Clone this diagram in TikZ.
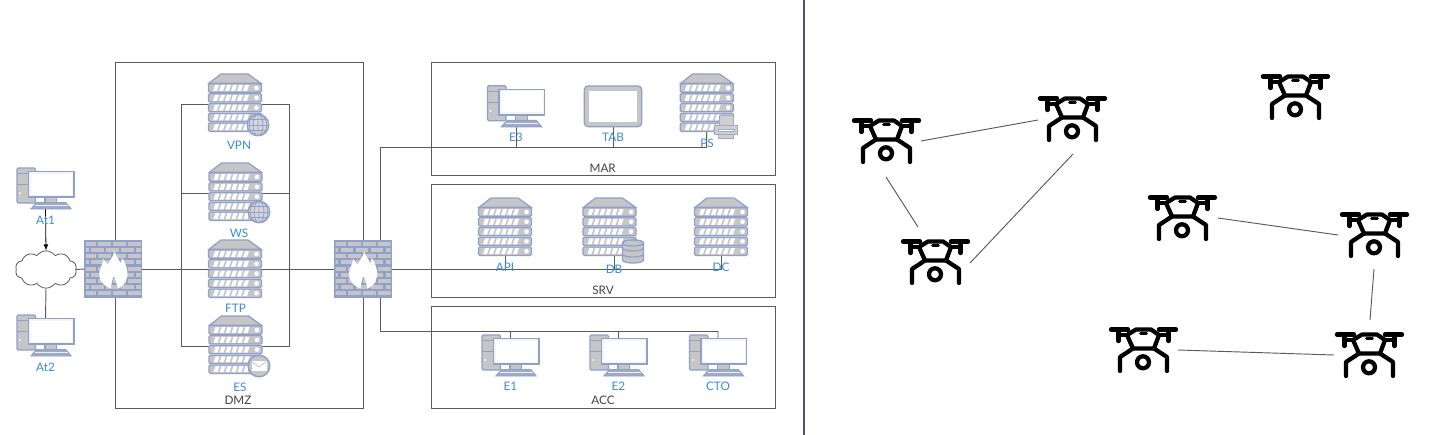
\documentclass[tikz,border=0pt]{standalone}
\usepackage{fontspec}
\setmainfont{Lato}
\usetikzlibrary{arrows.meta,shapes.symbols}
\definecolor{icb}{HTML}{8FA1CB}
\definecolor{icg}{HTML}{C6C6C6}
\definecolor{lbl}{HTML}{3A8BD8}
\definecolor{ln}{HTML}{5A5A5A}
\definecolor{txt}{HTML}{444444}
\definecolor{divc}{HTML}{50508C}
\tikzset{
  x=0.75pt,y=-0.75pt,
  wire/.style={draw=ln,line width=0.7pt},
  zone/.style={draw=ln,line width=0.75pt},
  lab/.style={text=lbl,font=\fontsize{8.8}{10}\selectfont,inner sep=0pt},
  ztext/.style={text=txt,font=\fontsize{8.8}{10}\selectfont,inner sep=0pt},
  anchorbox/.style={inner sep=0pt,outer sep=0pt,minimum width=#1*0.75pt},
  srvbox/.style={anchorbox=53,minimum height=43.5pt},
  pcbox/.style={anchorbox=57,minimum height=30.75pt},
  fwbox/.style={anchorbox=58,minimum height=43.5pt},
  dronebox/.style={anchorbox=68,minimum height=34.5pt},
  ic/.style={draw=icb,line width=0.95pt,fill=icg},
  dr/.style={draw=black,line width=3.2pt,line cap=round,line join=round},
  pics/srvicon/.style={code={
    \path[ic] (-26,-19.7) -- (-14,-29) -- (13,-29) -- (26,-19.7) -- cycle;
    \foreach \yy in {-19.2,-9.4,0.4,10.2,20}{
      \path[ic,rounded corners=1pt] (-26.5,\yy) rectangle (26.5,\yy+8.4);
      \foreach \xx in {-22,-16,-10,-4,2,8}
        \fill[white] (\xx,\yy+7.2) -- (\xx+4,\yy+7.2) -- (\xx+6,\yy+1.2) -- (\xx+2,\yy+1.2) -- cycle;
      \fill[white] (21.5,\yy+4.2) circle (2.3);
    }
  }},
  pics/pcicon/.style={code={
    \path[ic,rounded corners=1pt] (-28.5,-20.5) rectangle (-10,14.5);
    \draw[icb,line width=0.8pt] (-28.5,-14.8) -- (-11,-14.8) (-28.5,-3.8) -- (-11,-3.8);
    \fill[white] (-25.5,4.5) circle (1);
    \path[ic] (-0.5,8.5) rectangle (11.2,14);
    \path[draw=icb,fill=icb!75!icg,line width=0.7pt] (-8.8,14) -- (20.2,14) -- (25.7,20.5) -- (-14.7,20.5) -- cycle;
    \draw[white!85!icb,line width=0.4pt] (-10.5,17) -- (22,17);
    \path[draw=icb,fill=white!80!icg,line width=1.1pt] (-17,-16.8) rectangle (28.5,8.7);
    \fill[white] (-15,-15) rectangle (26.5,6);
  }},
  pics/tabicon/.style={code={
    \path[ic,rounded corners=3pt] (-28.8,-20.4) rectangle (28.8,20.4);
    \fill[white] (-24,-15.5) rectangle (24,15.5);
  }},
  pics/globeicon/.style={code={
    \path[draw=icb,fill=icg!70!white,line width=0.95pt] (0,0) circle (10.8);
    \begin{scope}
      \clip (0,0) circle (10.8);
      \draw[icb,line width=0.65pt] (-10,-5.5) -- (10,-5.5) (-11,0) -- (11,0) (-10,5.5) -- (10,5.5);
      \draw[icb,line width=0.65pt] (0,-11) -- (0,11) (0,0) ellipse (5 and 10.8) (0,0) ellipse (8.8 and 10.8);
    \end{scope}
  }},
  pics/mailicon/.style={code={
    \path[draw=icb,fill=icg,line width=1.1pt] (0,0) circle (10.8);
    \fill[white] (-7.5,-5) rectangle (7.5,5.2);
    \draw[icg,line width=0.6pt] (-7.5,-4.5) -- (0,1) -- (7.5,-4.5);
  }},
  pics/dbicon/.style={code={
    \foreach \yy in {6,0,-6}{
      \path[ic] (-10.5,\yy) -- (-10.5,\yy+5) .. controls (-10.5,\yy+9) and (10.5,\yy+9) .. (10.5,\yy+5) -- (10.5,\yy) .. controls (10.5,\yy-4) and (-10.5,\yy-4) .. (-10.5,\yy) -- cycle;
    }
    \path[ic] (0,-6) ellipse (10.5 and 3);
  }},
  pics/printicon/.style={code={
    \path[draw=icb!70!icg,fill=icg!85!white,line width=0.7pt] (-7,-11) rectangle (7,0);
    \path[draw=icb!70!icg,fill=icg!85!white,line width=0.7pt] (-11.5,-1) rectangle (11.5,8);
    \path[draw=icb!70!icg,fill=white,line width=0.7pt] (-8,2.5) rectangle (8,5);
    \path[draw=icb!70!icg,fill=icg!85!white,line width=0.7pt] (-7.5,8) rectangle (7.5,11.5);
  }},
  pics/fwicon/.style={code={
    \fill[icb] (-29,-29) rectangle (29,29);
    \begin{scope}
      \clip (-27.5,-27.5) rectangle (27.5,27.5);
      \foreach \row in {0,...,8}{
        \pgfmathsetmacro{\ry}{-27.2+\row*6.2}
        \pgfmathsetmacro{\off}{mod(\row,2)==0 ? -30 : -37.5}
        \foreach \cc in {0,1,2,3,4}{
          \pgfmathsetmacro{\bx}{\off+\cc*15}
          \fill[icg] (\bx,\ry) rectangle (\bx+12.8,\ry+3.9);
        }
      }
    \end{scope}
    \fill[white] (1.5,-18) .. controls (2,-13) and (5,-11) .. (7,-6) .. controls (8,-7) and (8.5,-9) .. (8.7,-11)
      .. controls (13.5,-4) and (14.5,2) .. (14,7) .. controls (13,14) and (9,18) .. (4.5,19.5)
      .. controls (3.5,15) and (2,10) .. (0.5,7) .. controls (-1,10) and (-2,15) .. (-2.5,19.5)
      .. controls (-9,17) and (-14,13) .. (-14,5) .. controls (-14,0) and (-10.5,-4) .. (-10,-10)
      .. controls (-8,-8) and (-6.5,-6.5) .. (-5.5,-4.5) .. controls (-3,-9) and (0,-13) .. (1.5,-18) -- cycle;
  }},
  pics/droneicon/.style={code={
    \draw[dr] (-32,-19.5) -- (-15,-19.5) (16,-19.5) -- (33,-19.5);
    \draw[dr] (-24.5,-19.5) -- (-24.5,-8) (25.5,-19.5) -- (25.5,-8);
    \draw[dr] (-24.5,-14) -- (-16,-14) (25.5,-14) -- (16,-14);
    \draw[dr] (-7,-19.5) -- (8,-19.5) -- (16,-14) -- (11,-0.5) -- (-10,-0.5) -- (-16,-14) -- cycle;
    \draw[dr,line width=2.2pt] (-2.5,-15.5) -- (3.5,-15.5);
    \draw[dr] (-10,-0.5) -- (-23,8) -- (-23,22);
    \draw[dr] (11,-0.5) -- (24,8) -- (24,22);
    \draw[dr] (0,13.3) circle (6);
  }}
}
\begin{document}
\begin{tikzpicture}
\useasboundingbox (0,0) rectangle (1447,435);
\fill[white] (0,0) rectangle (1447,435);

% zones
\node[anchorbox=248,minimum height=259.5pt,zone] (dmz) at (239,235.3) {};
\node[anchorbox=344,minimum height=84.75pt,zone] (mar) at (603,119.2) {};
\node[anchorbox=344,minimum height=84.75pt,zone] (srvz) at (603,240.5) {};
\node[anchorbox=344,minimum height=76.5pt,zone] (acc) at (603,357) {};
\coordinate (dtop) at (804,0);
\coordinate (dbot) at (804,435);
\draw[divc,line width=0.8pt] (dtop) -- (dbot);

% anchors of the icons
\node[pcbox] (at1) at (45.5,188.5) {};
\node[pcbox] (at2) at (45.5,335.5) {};
\node[cloud,cloud puffs=10,cloud puff arc=110,aspect=1.6,draw=ln,fill=white,line width=0.6pt,inner sep=0pt,minimum width=46pt,minimum height=28pt] (net) at (46,269.5) {};
\node[fwbox] (fw1) at (113.3,269) {};
\node[fwbox] (fw2) at (363,269) {};
\node[srvbox] (vpn) at (235,103) {};
\node[srvbox] (ws) at (235.5,192) {};
\node[srvbox] (ftp) at (235,269) {};
\node[srvbox] (es) at (235.5,345) {};
\node[pcbox] (e3) at (516,106.3) {};
\node[pcbox] (tab) at (613,106.3) {};
\node[srvbox] (ps) at (706.7,103) {};
\node[srvbox] (api) at (505,227) {};
\node[srvbox] (db) at (609.5,227) {};
\node[srvbox] (dc) at (721,227) {};
\node[pcbox] (e1) at (510.5,355.5) {};
\node[pcbox] (e2) at (618.5,355.5) {};
\node[pcbox] (cto) at (718,355.5) {};

% connectors
\draw[wire,-{Latex[length=4.5pt,width=3.6pt]},draw=black,line width=0.6pt] (at1.south) -- (net.north);
\draw[wire] (net.south) -- ([yshift=-2.8pt]at2.north);
\draw[wire] (net.east) -- (fw1.west);
\draw[wire] (fw1.east) -- (fw2.west);
\draw[wire] (fw2.east) -- (dc.south |- fw2.east) -- (dc.south);
\draw[wire] (api.south) -- (api.south |- fw2.east);
\coordinate (dbs) at (614,256);
\coordinate (dbj) at (614,269);
\draw[wire] (dbs) -- (dbj);
\coordinate (mj) at ([xshift=13.1pt]fw2.north);
\coordinate (aj) at ([xshift=13.1pt]fw2.south);
\coordinate (mc) at (380.5,147.5);
\coordinate (ac) at (380.5,331.5);
\draw[wire] (mj) -- (mc) -- (ps.south |- mc) -- (ps.south);
\draw[wire] (e3.south) -- (e3.south |- mc);
\draw[wire] (tab.south) -- (tab.south |- mc);
\draw[wire] (aj) -- (ac) -- (cto.north |- ac) -- ([yshift=-2.8pt]cto.north);
\draw[wire] ([yshift=-2.8pt]e1.north) -- (e1.north |- ac);
\draw[wire] ([yshift=-2.8pt]e2.north) -- (e2.north |- ac);
\coordinate (ltop) at (181.3,104);
\coordinate (rtop) at (289.3,104);
\coordinate (lbot) at (181.3,346);
\coordinate (rbot) at (289.3,346);
\coordinate (lmid) at (181.3,193);
\coordinate (rmid) at (289.3,193);
\draw[wire] (vpn.west |- ltop) -- (ltop) -- (lbot) -- (es.west |- lbot);
\draw[wire] (vpn.east |- rtop) -- (rtop) -- (rbot) -- (es.east |- rbot);
\draw[wire] (lmid) -- (ws.west |- lmid);
\draw[wire] (ws.east |- rmid) -- (rmid);

% icons
\pic at (at1) {pcicon};
\pic at (at2) {pcicon};
\pic at (fw1) {fwicon};
\pic at (fw2) {fwicon};
\pic at (vpn) {srvicon};
\pic at (258,125) {globeicon};
\pic at (ws) {srvicon};
\pic at (259,212) {globeicon};
\pic at (ftp) {srvicon};
\pic at (es) {srvicon};
\pic at (259,366) {mailicon};
\pic at (e3) {pcicon};
\pic at (tab) {tabicon};
\pic at (ps) {srvicon};
\pic at (726,126.5) {printicon};
\pic at (api) {srvicon};
\pic at (db) {srvicon};
\pic at (633,249) {dbicon};
\pic at (dc) {srvicon};
\pic at (e1) {pcicon};
\pic at (e2) {pcicon};
\pic at (cto) {pcicon};

% labels
\node[lab] (lat1) at (45.5,220) {At1};
\node[lab] (lat2) at (45.5,367) {At2};
\node[lab] (lvpn) at (239,145) {VPN};
\node[lab] (lws) at (239,233) {WS};
\node[lab] (lftp) at (235.5,308.5) {FTP};
\node[lab] (les) at (240,387) {ES};
\node[ztext] (ldmz) at (238,400.5) {DMZ};
\node[lab] (le3) at (516,137.5) {E3};
\node[lab] (ltab) at (613,137.5) {TAB};
\node[lab] (lps) at (707,143) {PS};
\node[ztext] (lmar) at (602.7,168) {MAR};
\node[lab] (lapi) at (505,267) {API};
\node[lab] (ldb) at (614,269.5) {DB};
\node[lab] (ldc) at (721,267) {DC};
\node[ztext] (lsrv) at (603,290) {SRV};
\node[lab] (le1) at (510.5,386.5) {E1};
\node[lab] (le2) at (618.5,386.5) {E2};
\node[lab] (lcto) at (718,386.5) {CTO};
\node[ztext] (lacc) at (603,400.5) {ACC};

% drones
\foreach \nm/\xx/\yy in {d1/886/140,d2/1072/118,d3/1295/96,d4/935/261,d5/1182/217,d6/1374/234,d7/1369/354,d8/1143/349}{
  \node[dronebox] (\nm) at (\xx,\yy) {};
  \pic at (\nm) {droneicon};
}
\draw[wire] ([shift={(26.25pt,-0.75pt)}]d1.center) -- ([shift={(-25.5pt,-1.5pt)}]d2.center);
\draw[wire] ([shift={(0pt,-27.75pt)}]d1.center) -- ([shift={(-12.75pt,25.5pt)}]d4.center);
\draw[wire] ([shift={(0.75pt,-27pt)}]d2.center) -- ([shift={(26.25pt,-1.5pt)}]d4.center);
\draw[wire] ([shift={(27pt,-0.75pt)}]d5.center) -- ([shift={(-27pt,-0.75pt)}]d6.center);
\draw[wire] ([shift={(0pt,-26.25pt)}]d6.center) -- ([shift={(0.75pt,25.5pt)}]d7.center);
\draw[wire] ([shift={(-26.25pt,-0.75pt)}]d7.center) -- ([shift={(26.25pt,-0.75pt)}]d8.center);
\end{tikzpicture}
\end{document}
